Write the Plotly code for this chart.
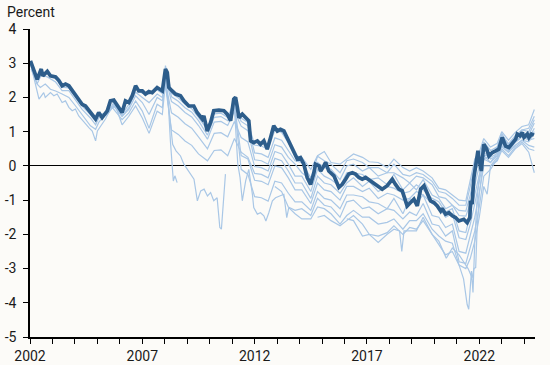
import plotly.graph_objects as go

# ---------------- data ----------------
thick_years = [2002.02, 2002.32, 2002.50, 2002.57, 2002.77, 2002.91, 2003.14, 2003.28, 2003.43, 2003.58,
               2003.73, 2003.95, 2004.32, 2004.47, 2004.69, 2004.92, 2005.06, 2005.21, 2005.44, 2005.58,
               2005.73, 2006.10, 2006.25, 2006.40, 2006.55, 2006.70, 2006.84, 2007.00, 2007.14, 2007.29,
               2007.44, 2007.66, 2007.89, 2008.03, 2008.11, 2008.18, 2008.33, 2008.48, 2008.70, 2008.85,
               2009.07, 2009.29, 2009.44, 2009.67, 2009.74, 2009.89, 2010.04, 2010.18, 2010.41, 2010.63,
               2010.78, 2010.93, 2011.07, 2011.15, 2011.23, 2011.30, 2011.45, 2011.60, 2011.74, 2011.82,
               2011.96, 2012.12, 2012.26, 2012.41, 2012.56, 2012.71, 2012.85, 2013.01, 2013.15, 2013.30,
               2013.52, 2013.75, 2013.90, 2014.04, 2014.19, 2014.34, 2014.49, 2014.64, 2014.71, 2014.86,
               2014.94, 2015.08, 2015.16, 2015.30, 2015.53, 2015.75, 2015.90, 2016.05, 2016.19, 2016.35,
               2016.49, 2016.64, 2016.79, 2016.94, 2017.16, 2017.31, 2017.53, 2017.68, 2017.90, 2018.13,
               2018.27, 2018.42, 2018.57, 2018.79, 2018.94, 2019.09, 2019.24, 2019.39, 2019.54, 2019.68,
               2019.83, 2019.98, 2020.13, 2020.28, 2020.35, 2020.50, 2020.65, 2020.80, 2020.94, 2021.09,
               2021.24, 2021.31, 2021.46, 2021.58, 2021.61, 2021.68, 2021.76, 2021.84, 2021.94, 2021.98,
               2022.09, 2022.20, 2022.33, 2022.43, 2022.58, 2022.73, 2022.87, 2023.02, 2023.17, 2023.32,
               2023.47, 2023.62, 2023.69, 2023.81, 2023.91, 2023.99, 2024.14, 2024.21, 2024.32, 2024.43]
thick_vals = [3.07, 2.53, 2.83, 2.63, 2.76, 2.63, 2.60, 2.50, 2.34, 2.39,
              2.34, 2.14, 1.80, 1.75, 1.56, 1.37, 1.56, 1.41, 1.61, 1.90,
              1.92, 1.56, 1.90, 1.85, 2.05, 2.34, 2.19, 2.19, 2.10, 2.17,
              2.14, 2.29, 2.19, 2.83, 2.73, 2.29, 2.19, 2.10, 2.05, 1.90,
              1.75, 1.75, 1.56, 1.37, 1.46, 1.02, 1.27, 1.61, 1.63, 1.61,
              1.51, 1.32, 1.95, 2.00, 1.71, 1.41, 1.51, 1.41, 1.32, 0.73,
              0.68, 0.73, 0.63, 0.73, 0.49, 0.83, 1.17, 1.02, 1.07, 1.02,
              0.73, 0.44, 0.20, 0.24, 0.05, -0.34, -0.54, -0.20, 0.05, 0.00,
              -0.15, 0.00, 0.10, -0.15, -0.29, -0.63, -0.54, -0.39, -0.24, -0.20,
              -0.24, -0.34, -0.39, -0.34, -0.44, -0.49, -0.58, -0.68, -0.58, -0.39,
              -0.54, -0.68, -0.73, -1.17, -1.07, -0.97, -1.17, -0.68, -0.58, -0.83,
              -1.02, -1.07, -1.17, -1.32, -1.24, -1.41, -1.37, -1.46, -1.51, -1.61,
              -1.56, -1.56, -1.66, -1.51, -1.02, -1.12, -0.34, 0.05, 0.44, 0.24,
              -0.15, 0.63, 0.49, 0.29, 0.39, 0.44, 0.49, 0.83, 0.58, 0.54,
              0.68, 0.78, 0.93, 0.88, 0.97, 0.83, 0.93, 0.83, 0.93, 0.90]

# knot years used by several thin series
early_years = [2002.02, 2002.32, 2002.5, 2002.77, 2003.14, 2003.43, 2003.73, 2003.95, 2004.32, 2004.69,
               2004.92, 2005.06, 2005.44, 2005.73, 2006.1, 2006.4, 2006.7, 2007.0, 2007.3, 2007.66, 2007.89]
late_years = [2008.03, 2008.3, 2008.6, 2008.9, 2009.2, 2009.5, 2009.9, 2010.2, 2010.5, 2010.8,
              2011.1, 2011.4, 2011.7, 2012.0, 2012.3, 2012.6, 2012.9, 2013.2, 2013.5, 2013.8,
              2014.1, 2014.5, 2014.8, 2015.1, 2015.4, 2015.8, 2016.1, 2016.4, 2016.8, 2017.1,
              2017.5, 2017.9, 2018.2, 2018.6, 2018.9, 2019.2, 2019.5, 2019.9, 2020.2, 2020.5,
              2020.8, 2021.1, 2021.4, 2021.6, 2021.8, 2022.0, 2022.2, 2022.5, 2022.8, 2023.0,
              2023.3, 2023.6, 2023.9, 2024.2, 2024.45]

s1_early = [3.0, 2.5, 2.75, 2.7, 2.55, 2.3, 2.28, 2.1, 1.75, 1.5, 1.3, 1.5, 1.55, 1.85, 1.5, 1.8, 2.28, 2.12, 2.1, 2.22, 2.12]
s1_late = [2.93, 2.12, 1.99, 1.80, 1.67, 1.42, 1.05, 1.52, 1.54, 1.42,
           1.89, 1.40, 1.27, 0.61, 0.58, 0.48, 1.05, 0.98, 0.68, 0.3,
           0.25, -0.1, 0.3, 0.42, 0.1, 0.05, 0.2, 0.35, 0.25, 0.12,
           0.1, -0.05, 0.2, -0.05, -0.15, -0.05, -0.15, -0.35, -0.65, -0.7,
           -0.85, -1.0, -1.02, -0.45, 0.2, 0.4, 0.8, 0.55, 0.66, 1.0,
           0.75, 0.98, 1.15, 1.2, 1.65]

s2_early = [2.95, 2.4, 2.65, 2.6, 2.45, 2.2, 2.2, 2.0, 1.65, 1.4, 1.2, 1.4, 1.5, 1.8, 1.45, 1.7, 2.15, 2.0, 1.85, 2.1, 2.0]
s2_late = [2.73, 2.02, 1.89, 1.70, 1.57, 1.32, 0.9, 1.42, 1.44, 1.32,
           1.75, 1.3, 1.17, 0.38, 0.35, 0.25, 0.82, 0.75, 0.45, 0.15,
           0.1, -0.35, 0.28, 0.15, 0.05, -0.2, 0.15, 0.2, 0.1, -0.05,
           -0.05, -0.2, 0.05, -0.25, -0.3, -0.2, -0.25, -0.45, -0.75, -0.8,
           -0.95, -1.15, -1.15, -0.6, 0.1, 0.3, 0.7, 0.45, 0.56, 0.9,
           0.65, 0.88, 1.05, 1.0, 1.35]

s3_early_years = [2002.05, 2002.32, 2002.46, 2002.68, 2002.91, 2003.14, 2003.43, 2003.73, 2004.03, 2004.25,
                  2004.47, 2004.69, 2004.92, 2005.06, 2005.36, 2005.66, 2006.1, 2006.4, 2006.7, 2007.0,
                  2007.3, 2007.66, 2007.89]
s3_early = [2.83, 2.39, 2.29, 2.39, 2.24, 2.19, 2.1, 2.0, 1.75, 1.56,
            1.37, 1.17, 1.07, 1.27, 1.51, 1.71, 1.35, 1.55, 1.9, 1.6,
            1.1, 1.8, 1.7]
s3_late = [2.58, 1.88, 1.75, 1.56, 1.43, 1.18, 0.78, 1.28, 1.3, 1.18,
           1.6, 1.16, 1.03, 0.18, 0.15, 0.05, 0.62, 0.55, 0.25, 0.05,
           -0.2, -0.4, 0.1, -0.05, -0.1, -0.4, 0.0, 0.05, -0.15, -0.05,
           -0.3, -0.2, -0.2, -0.35, -0.5, -0.3, -0.35, -0.55, -0.9, -0.95,
           -1.15, -1.3, -1.32, -0.85, -0.2, 0.15, 0.5, 0.25, 0.36, 0.7,
           0.45, 0.68, 0.85, 0.8, 1.1]

s4_early_years = [2002.1, 2002.4, 2002.61, 2002.68, 2002.91, 2003.06, 2003.21, 2003.43, 2003.58, 2003.73,
                  2003.88, 2004.02, 2004.17, 2004.4, 2004.62, 2004.77, 2004.92, 2005.0, 2005.14, 2005.36,
                  2005.58, 2005.81, 2006.1, 2006.4, 2006.7, 2007.0, 2007.3, 2007.5, 2007.66, 2007.89]
s4_early = [2.78, 1.95, 2.14, 2.0, 2.14, 2.05, 2.1, 1.85, 1.9, 1.71,
            1.61, 1.66, 1.46, 1.27, 1.12, 1.02, 0.73, 1.02, 1.17, 1.37,
            1.66, 1.75, 1.2, 1.45, 1.75, 1.4, 0.95, 1.3, 1.6, 1.5]
s4_late = [2.43, 1.55, 1.42, 1.23, 1.1, 0.85, 0.5, 0.95, 0.97, 0.85,
           1.3, 0.83, 0.7, -0.02, -0.05, -0.15, 0.42, 0.35, 0.05, -0.3,
           -0.3, -0.75, -0.1, -0.3, -0.4, -0.6, -0.2, -0.2, -0.25, -0.4,
           -0.35, -0.55, -0.25, -0.7, -0.5, -0.7, -0.4, -0.85, -0.95, -1.25,
           -1.15, -1.45, -1.47, -1.1, -0.5, 0.0, 0.4, 0.2, 0.3, 0.6,
           0.4, 0.6, 0.75, 0.7, 0.95]

s5_early_years = [2005.44, 2005.73, 2006.1, 2006.4, 2006.7, 2007.0, 2007.3, 2007.66, 2007.89]
s5_early = [1.5, 1.75, 1.45, 1.65, 2.05, 1.85, 1.5, 2.0, 1.9]
s5_late = [2.33, 1.05, 0.92, 0.73, 0.6, 0.35, 0.15, 0.45, 0.47, 0.3,
           0.8, 0.4, 0.25, -0.22, -0.25, -0.35, 0.22, 0.15, -0.15, -0.5,
           -0.5, -0.95, -0.3, -0.5, -0.55, -0.8, -0.5, -0.35, -0.6, -0.45,
           -0.75, -0.6, -0.65, -0.8, -0.75, -0.55, -0.7, -0.95, -1.05, -1.35,
           -1.25, -1.9, -1.95, -1.4, -0.8, -0.2, 0.3, 0.3, 0.5, 0.85,
           0.6, 0.85, 1.0, 0.9, 1.25]

s6_years = [2008.03, 2008.25, 2008.35, 2008.5, 2008.7, 2008.85, 2009.07, 2009.3, 2009.45, 2009.6,
            2009.75, 2009.9, 2010.04, 2010.18, 2010.33, 2010.45, 2010.52, 2010.6, 2010.7, 2010.9,
            2011.1, 2011.25, 2011.35, 2011.45, 2011.6, 2011.74, 2011.9, 2011.96, 2012.12, 2012.26,
            2012.41, 2012.5, 2012.63, 2012.79, 2012.93, 2013.15, 2013.3, 2013.43, 2013.52, 2013.8,
            2014.1, 2014.5, 2014.8, 2015.1, 2015.4, 2015.8, 2016.1, 2016.4, 2016.8, 2017.1,
            2017.5, 2017.9, 2018.2, 2018.6, 2018.9, 2019.2, 2019.5, 2019.9, 2020.2, 2020.5,
            2020.8, 2021.1, 2021.4, 2021.6, 2021.8, 2022.0, 2022.2, 2022.35, 2022.5, 2022.8,
            2023.0, 2023.3, 2023.6, 2023.9, 2024.2, 2024.45]
s6_vals = [2.6, 1.12, 0.63, 0.44, 0.29, 0.05, -0.15, -0.39, -1.02, -0.73,
           -0.68, -0.88, -0.78, -1.02, -0.93, -1.8, -1.85, -1.0, -0.24, None,
           1.7, 0.05, -0.34, -1.02, -0.44, -0.1, -0.83, -1.22, -1.41, -1.37,
           -1.46, -1.61, -1.37, -1.02, -0.93, -0.88, -0.83, -1.51, -1.22, -1.4,
           -1.55, -1.55, -1.2, -1.25, -1.4, -1.7, -1.45, -1.3, -1.5, -1.5,
           -1.7, -1.65, -1.55, -1.85, -1.6, -1.6, -1.4, -1.85, -2.05, -2.2,
           -2.26, -2.9, -3.0, -2.7, -2.2, -1.5, -0.6, -0.83, 0.0, 0.15,
           0.45, 0.25, 0.5, 0.65, 0.4, -0.2]

s7_late = [None] * 10 + [1.8, 0.3, 0.2, -0.42, -0.45, -0.55, 0.0, -0.05, -0.35, -0.7,
                         -0.7, -1.1, -0.5, -0.7, -0.75, -1.0, -0.6, -0.6, -0.75, -0.65,
                         -0.95, -0.8, -0.85, -1.0, -0.95, -0.75, -0.85, -1.1, -1.2, -1.5,
                         -1.4, -2.1, -2.15, -1.7, -1.1, -0.5, 0.2, 0.1, 0.3, 0.65,
                         0.5, 0.7, 0.85, 0.75, 0.8]

s8_late = [None] * 10 + [1.75, -0.1, -0.25,
                         -0.9, -0.93, -1.03, -0.45, -0.5, -0.8, -1.05, -1.05, -1.3, -0.75,
                         -0.95, -1.0, -1.25, -0.85, -0.85, -0.9, -1.05, -1.1, -1.25, -0.95,
                         -1.4, -0.95, -1.1, -0.85, -1.45, -1.5, -1.8, -1.7, -2.5, -2.55,
                         -2.0, -1.5, -0.8, 0.0, 0.0, 0.25, 0.55, 0.4, 0.6, 0.75,
                         0.6, 0.55]

s9_late = [None] * 16 + [-0.6, -0.75,
                         -1.2, -1.3, -1.25, -1.45, -0.95, -1.15, -1.2, -1.5, -1.05, -1.0,
                         -1.25, -1.2, -1.4, -1.25, -1.3, -1.55, -1.35, -1.45, -1.1, -1.7,
                         -1.75, -2.05, -1.9, -2.8, -2.85, -2.4, -1.9, -1.2, -0.3, -0.1,
                         0.2, 0.5, 0.3, 0.55, 0.7, 0.5, 0.45]

s10_years = [2014.8, 2015.1, 2015.4, 2015.8, 2016.1, 2016.4, 2016.8, 2017.1, 2017.5, 2017.9,
             2018.2, 2018.6, 2018.9, 2019.2, 2019.5, 2019.9, 2020.2, 2020.5, 2020.8, 2021.1,
             2021.3, 2021.46, 2021.53, 2021.65, 2021.72, 2021.8, 2021.9, 2022.0, 2022.2, 2022.5,
             2022.8, 2023.0, 2023.3, 2023.6, 2023.9, 2024.2, 2024.45]
s10_vals = [-1.5, -1.45, -1.6, -1.75, -1.6, -1.45, -1.7, -2.0, -2.05, -1.95,
            -1.75, -2.0, -1.8, -1.85, -1.6, -2.0, -2.3, -2.6, -2.5, -2.9,
            -3.3, -4.05, -4.19, -3.07, -3.7, -2.2, -1.0, -0.3, 0.3, 0.1,
            0.4, 0.7, 0.45, 0.7, 0.9, 0.8, 1.0]

s11_years = [2016.1, 2016.4, 2016.8, 2017.1, 2017.5, 2017.9, 2018.2, 2018.45, 2018.55, 2018.65,
             2018.9, 2019.2, 2019.5, 2019.9, 2020.2, 2020.53, 2020.8, 2021.1, 2021.3, 2021.5,
             2021.68, 2021.76, 2021.84, 2021.9, 2022.0, 2022.2, 2022.5, 2022.8, 2023.0, 2023.3,
             2023.6, 2023.9, 2024.2, 2024.45]
s11_vals = [-1.55, -1.6, -2.05, -2.0, -2.24, -2.0, -1.85, -1.9, -2.5, -1.9,
            -1.9, -1.9, -1.5, -2.0, -2.2, -2.7, -2.4, -2.6, -2.8, -3.0,
            -3.27, -3.0, -2.97, -1.9, -0.8, 0.2, 0.3, 0.55, 0.95, 0.6,
            0.85, 1.05, 1.1, 1.45]

short_years = [2008.0, 2008.15, 2008.25, 2008.33, 2008.38, 2008.45, 2008.55]
short_vals = [2.5, 1.9, 0.73, 0.05, -0.44, -0.29, -0.49]

tick_years = list(range(2002, 2025))
tick_labels = [str(y) if (y - 2002) % 5 == 0 else "" for y in tick_years]
y_ticks = [-5, -4, -3, -2, -1, 0, 1, 2, 3, 4]
y_labels = ["-5", "-4", "-3", "-2", "-1", "0", "1", "2", "3", "4"]

# ---------------- figure ----------------
THIN = "#a9c7e6"
THICK = "#2d5d8b"
BG = "#fcfbf8"
FONT = "Roboto, Arial, sans-serif"

thin_series = [
    (early_years + late_years, s1_early + s1_late),
    (early_years + late_years, s2_early + s2_late),
    (s3_early_years + late_years, s3_early + s3_late),
    (s4_early_years + late_years, s4_early + s4_late),
    (s5_early_years + late_years, s5_early + s5_late),
    (s6_years, s6_vals),
    (late_years, s7_late),
    (late_years, s8_late),
    (late_years, s9_late),
    (s10_years, s10_vals),
    (s11_years, s11_vals),
    (short_years, short_vals),
]

fig = go.Figure()
for xs, ys in thin_series:
    fig.add_trace(go.Scatter(x=xs, y=ys, mode="lines", connectgaps=False,
                             line=dict(color=THIN, width=1.2),
                             hoverinfo="skip", showlegend=False))
fig.add_trace(go.Scatter(x=thick_years, y=thick_vals, mode="lines",
                         line=dict(color=THICK, width=3.7),
                         hoverinfo="skip", showlegend=False))

fig.update_layout(
    width=550, height=365,
    margin=dict(l=30, r=15, t=29, b=28, autoexpand=False),
    paper_bgcolor=BG, plot_bgcolor=BG,
    font=dict(family=FONT, size=14, color="#1a1a1a"),
    showlegend=False,
    xaxis=dict(range=[2002, 2024.48], showgrid=False, zeroline=False,
               showline=True, linecolor="black", linewidth=1.5,
               ticks="outside", ticklen=5, tickwidth=1, tickcolor="black",
               tickvals=tick_years, ticktext=tick_labels, automargin=False,
               tickfont=dict(family=FONT, size=14, color="#1a1a1a")),
    yaxis=dict(range=[-5, 4], showgrid=False,
               zeroline=True, zerolinecolor="black", zerolinewidth=1.3,
               showline=True, linecolor="black", linewidth=1.5,
               ticks="outside", ticklen=5, tickwidth=1, tickcolor="black",
               tickvals=y_ticks, ticktext=y_labels, automargin=False,
               ticklabelstandoff=4,
               tickfont=dict(family=FONT, size=14, color="#1a1a1a")),
    annotations=[dict(text="Percent", xref="paper", yref="paper",
                      x=-0.05, y=1.055, xanchor="left", yanchor="middle",
                      showarrow=False, font=dict(family=FONT, size=14, color="#1a1a1a"))],
)

fig.write_html("out.html", config={"displayModeBar": False},
               post_script="document.body.style.margin='0';document.body.style.background='%s';" % BG)
